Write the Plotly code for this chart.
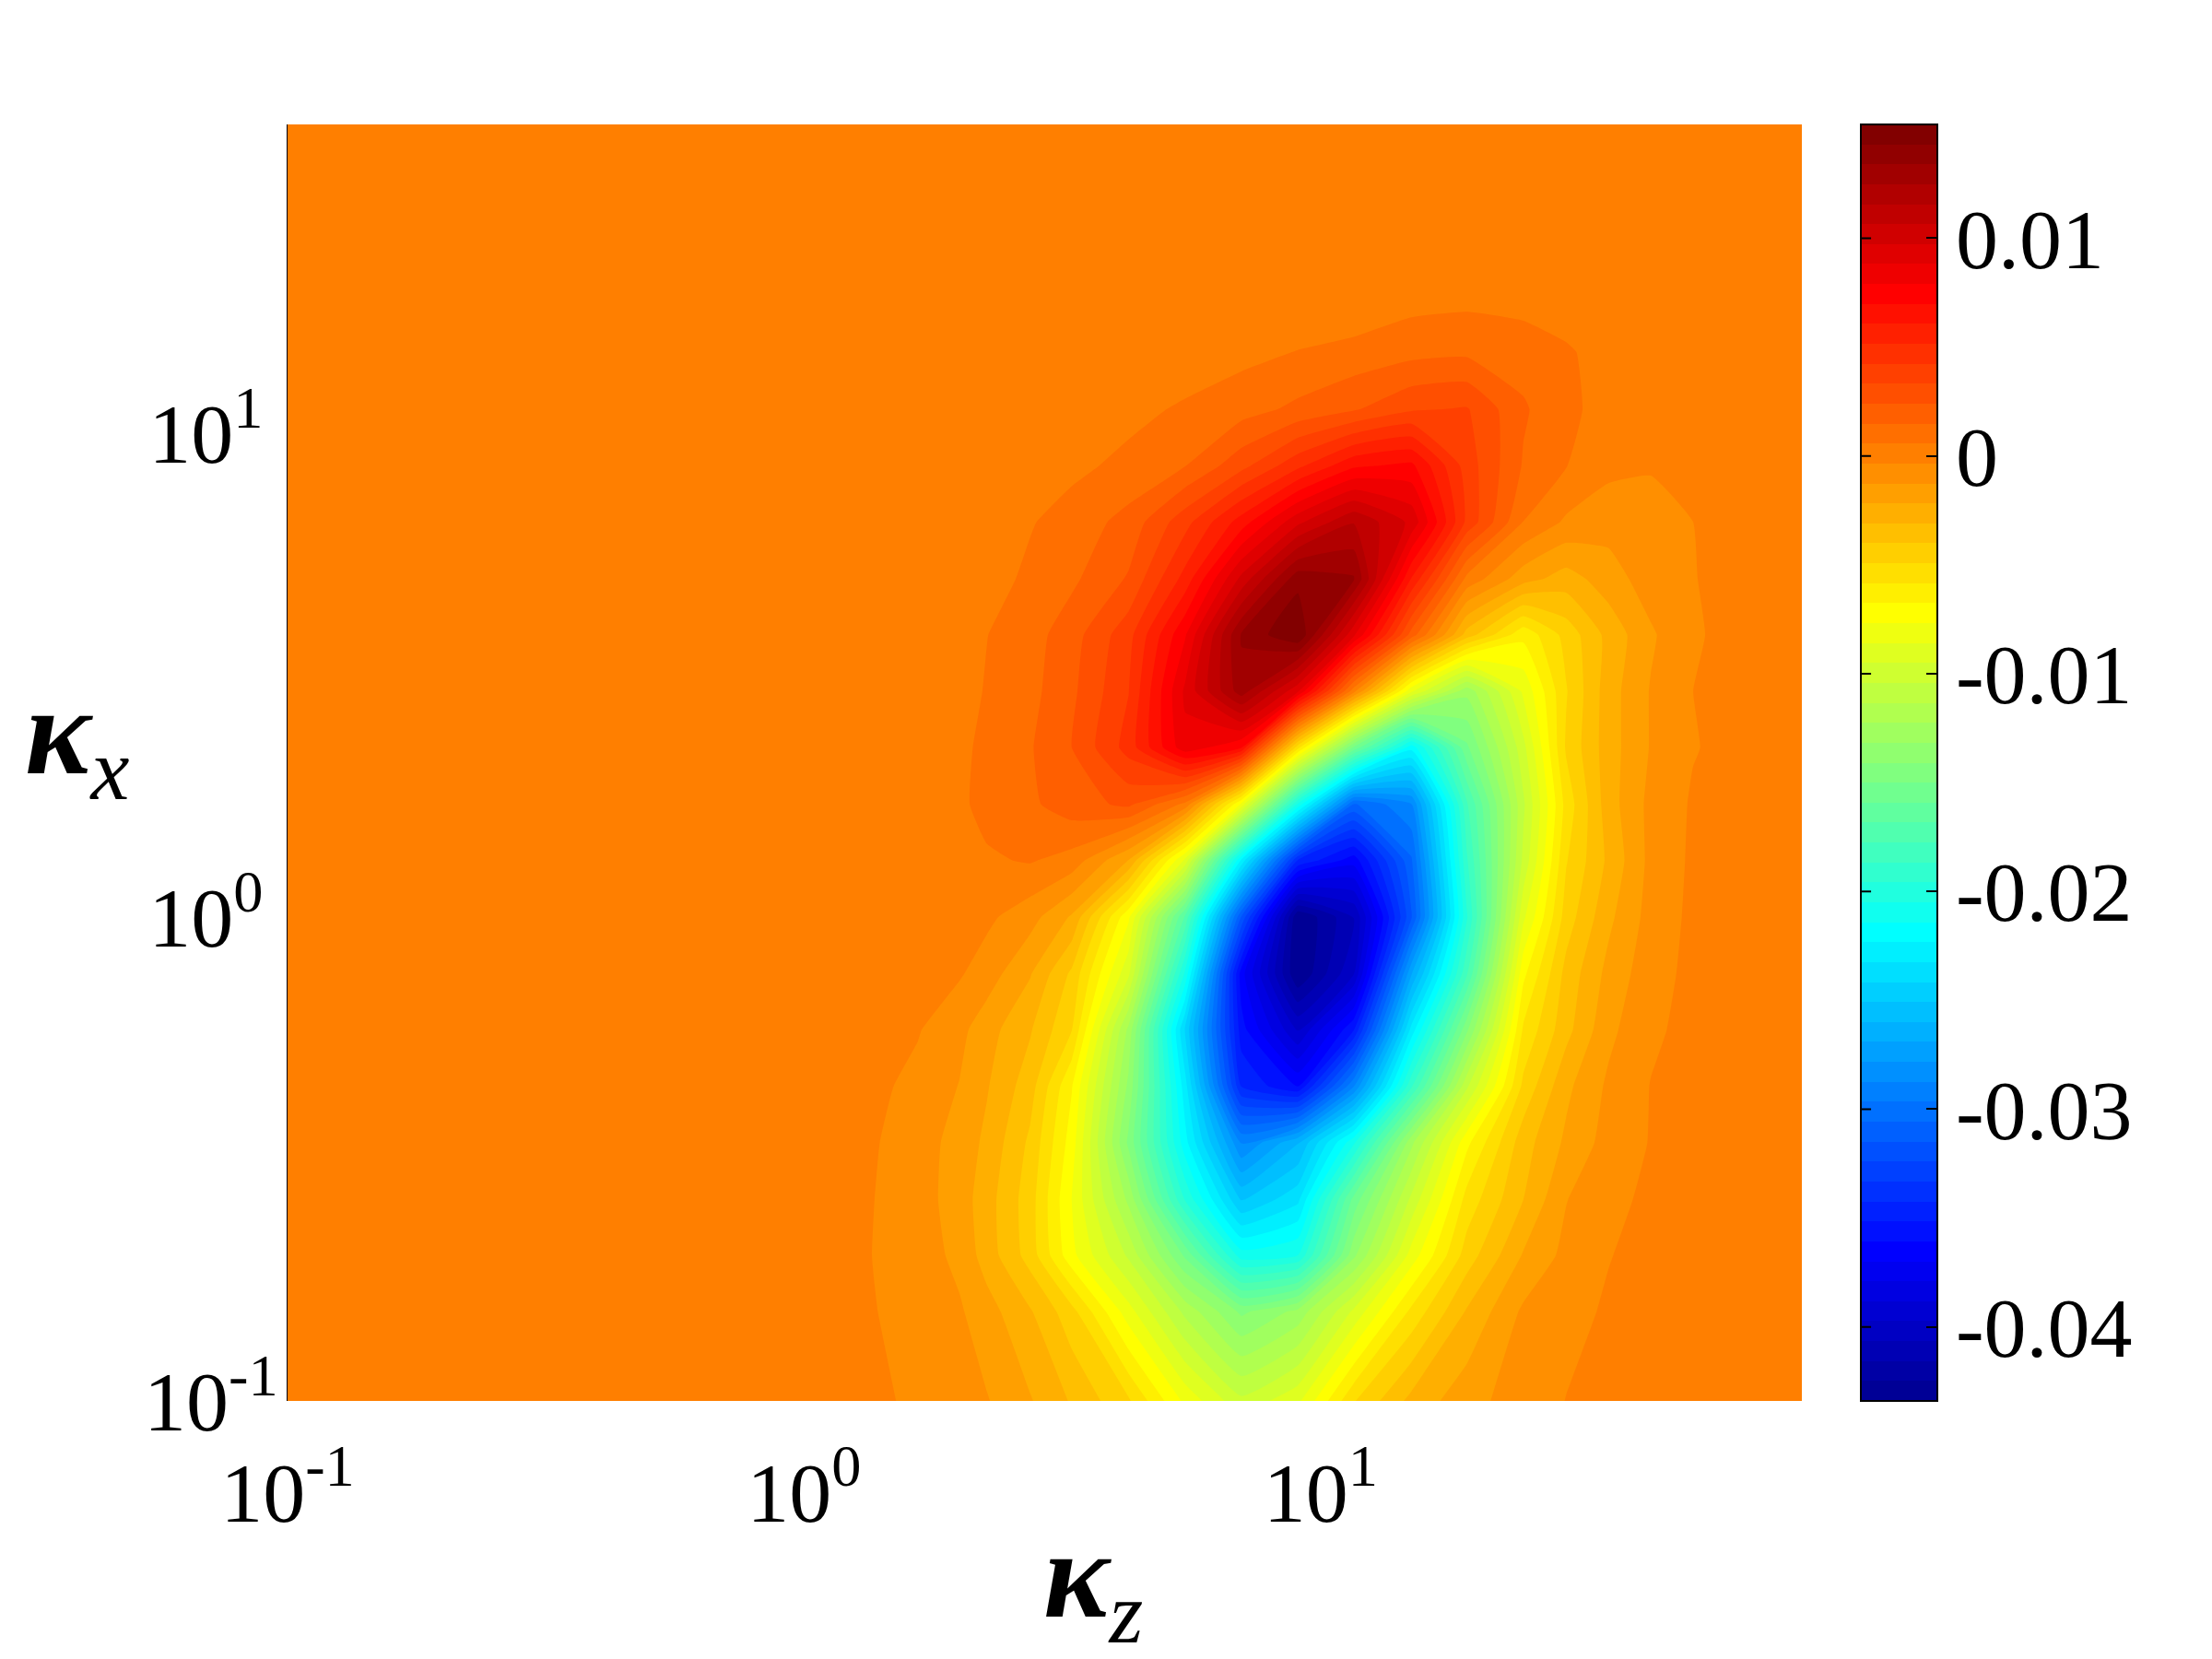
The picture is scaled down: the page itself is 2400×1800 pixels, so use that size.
#!/usr/bin/env python3
"""
Contour map over kz / kx on log axes, jet(64) colours, read off the reference
"""

import plotly.graph_objects as go

# streamwise / spanwise wavenumbers of the grid I read values at
kz = [0.1, 0.644, 1.21, 1.37, 1.66, 2.0, 2.26, 2.74, 3.30, 4.25, 5.47, 7.03,
      9.04, 11.6, 15.0, 19.2, 24.7, 29.9, 36.1, 43.6, 52.6, 63.5, 85.5]
kx = [0.1, 0.153, 0.2, 0.261, 0.342, 0.447, 0.585, 0.764, 1.0, 1.31, 1.71,
      2.24, 2.93, 3.83, 5.0, 6.55, 8.57, 11.2, 14.7, 17.9, 43.5]

# values in units of 1e-3, rows go from kx = 0.1 upwards
z_milli = [
    [0, 0, 0, -.1, -.6, -.95, -1.2, -2.1, -3.2, -4.8, -7.9, -10.2, -8.8, -5, -2.8, -1.6, -.8, -.33, -.15, -.05, 0, 0, 0],
    [0, 0, -.05, -.32, -.7, -1.15, -1.8, -3, -4.6, -8.2, -11.6, -14.3, -12.9, -9.3, -5.6, -3, -1.1, -.6, -.25, -.1, 0, 0, 0],
    [0, 0, -.05, -.38, -.8, -1.5, -2.6, -4.4, -7.4, -10.6, -15.2, -21, -20.5, -13.4, -8.2, -4.5, -2.1, -1, -.38, -.1, 0, 0, 0],
    [0, 0, 0, -.35, -.85, -1.7, -2.7, -4.5, -7.7, -12.5, -19.7, -25.2, -23.5, -15.6, -10.2, -5.5, -3.1, -1.3, -.55, -.2, -.05, 0, 0],
    [0, 0, -.1, -.28, -.85, -1.6, -2.4, -4.2, -7.2, -14.3, -22, -28.8, -26.1, -20.7, -12.5, -7, -3.5, -2, -.9, -.3, -.1, 0, 0],
    [0, 0, 0, -.15, -.6, -1.3, -2.1, -3.6, -6.7, -13.4, -22.9, -34.3, -36.1, -28.8, -18.8, -10.6, -4.7, -2.4, -1.1, -.32, -.1, 0, 0],
    [0, 0, 0, -.02, -.28, -1, -1.8, -3, -4.9, -12.5, -24.3, -35.7, -39.8, -35.2, -22.9, -14.3, -5.7, -3.4, -1.5, -.5, -.1, 0, 0],
    [0, 0, 0, 0, -.05, -.25, -.8, -2.1, -4.2, -9.3, -20.7, -36.6, -43.4, -39.8, -27, -17.9, -7, -3.7, -1.9, -.7, -.12, 0, 0],
    [0, 0, 0, 0, 0, -.05, -.15, -.9, -2.3, -7.5, -17, -31.6, -43.4, -40.7, -31.6, -19.7, -8.8, -4.5, -2.4, -.9, -.15, 0, 0],
    [0, 0, 0, 0, 0, .2, .45, .65, .2, -2.2, -8.8, -22.5, -34.3, -36.6, -30.7, -18.8, -10.2, -5, -2.9, -1, -.2, 0, 0],
    [0, 0, 0, 0, 0, .4, .85, 1.3, 2, 2.6, .3, -7.9, -20.7, -30.7, -28.8, -17.9, -10.6, -5.5, -2.6, -1, -.25, 0, 0],
    [0, 0, 0, 0, 0, .35, .8, 1.4, 2.4, 4.6, 8.5, 7, -5.5, -15.2, -22, -15.2, -9.8, -4.8, -2.6, -1.2, -.4, -.1, 0],
    [0, 0, 0, 0, 0, .15, .65, 1.2, 2.2, 4.2, 9, 13, 9, 0, -8.4, -12.9, -8.4, -5, -2.6, -1.2, -.35, -.1, 0],
    [0, 0, 0, 0, 0, 0, .55, 1.1, 2, 3.9, 7.8, 13.5, 15.2, 9, 2, -3.5, -6.5, -4.6, -2.8, -1.4, -.45, -.1, 0],
    [0, 0, 0, 0, 0, 0, .2, .75, 1.3, 2.5, 5.5, 10, 14, 13.5, 6, .3, -1.8, -2.6, -1.7, -.8, -.38, -.1, 0],
    [0, 0, 0, 0, 0, 0, .15, .5, .95, 1.8, 3.9, 6.5, 9.5, 11.5, 9.5, 4, .55, -.5, -.9, -.8, -.35, -.1, 0],
    [0, 0, 0, 0, 0, 0, 0, .2, .35, .8, 1.45, 3, 4.9, 6.8, 7.2, 3.8, 1.4, .6, -.1, -.25, -.2, -.05, 0],
    [0, 0, 0, 0, 0, 0, 0, 0, 0, .3, .7, 1.1, 1.7, 2.3, 3.2, 3.4, 1.6, .8, .2, 0, 0, 0, 0],
    [0, 0, 0, 0, 0, 0, 0, 0, 0, 0, 0, .3, .6, .9, 1.2, 1.3, 1.1, .75, 0, 0, 0, 0, 0],
    [0, 0, 0, 0, 0, 0, 0, 0, 0, 0, 0, 0, 0, 0, .45, .55, .4, 0, 0, 0, 0, 0, 0],
    [0, 0, 0, 0, 0, 0, 0, 0, 0, 0, 0, 0, 0, 0, 0, 0, 0, 0, 0, 0, 0, 0, 0],
]

axis_ticks = [0.1, 1, 10]
x_ticktext = ["10<sup>-1</sup>", "10<sup>0</sup>", "10<sup>1</sup>"]
# the trailing space keeps the "10" of all three in one column
y_ticktext = ["10<sup>-1</sup>", "10<sup>0\u00a0</sup>", "10<sup>1\u00a0</sup>"]
cb_ticks = [0.01, 0, -0.01, -0.02, -0.03, -0.04]
cb_ticktext = ["0.01", "0", "-0.01", "-0.02", "-0.03", "-0.04"]

# stops placed so that each of the 64 bands gets its jet(64) colour
jet = [
    [0, "#00008f"], [0.117, "#0000ff"], [0.367, "#00ffff"],
    [0.617, "#ffff00"], [0.867, "#ff0000"], [1, "#7a0000"],
]

zmin = -0.0434
band = 0.000916
zmax = zmin + 64 * band
FONT = "Liberation Serif"

z = [[v * 1e-3 for v in row] for row in z_milli]

fig = go.Figure(go.Contour(
    x=kz,
    y=kx,
    z=z,
    colorscale=jet,
    zmin=zmin,
    zmax=zmax,
    autocontour=False,
    contours=dict(start=zmin, end=zmax, size=band, coloring="fill", showlines=False),
    line=dict(width=0, smoothing=0.4),
    colorbar=dict(
        x=1.039, xanchor="left", xpad=0,
        y=0.5, yanchor="middle", ypad=0, len=1,
        thickness=83, thicknessmode="pixels",
        outlinecolor="black", outlinewidth=2,
        tickmode="array", tickvals=cb_ticks, ticktext=cb_ticktext,
        ticks="inside", ticklen=13, tickwidth=2, tickcolor="black",
        tickfont=dict(family=FONT, size=92, color="black"),
    ),
))

# MATLAB draws the colorbar ticks on both sides, shapes end up under the bar
for v in cb_ticks:
    yy = (v - zmin) / (zmax - zmin)
    fig.add_annotation(text=" ", xref="paper", yref="paper", x=1.039, y=yy,
                       showarrow=True, arrowhead=0, arrowwidth=2, arrowcolor="black",
                       standoff=0, startstandoff=0, ax=14, ay=0, axref="pixel", ayref="pixel")

fig.add_annotation(text="<b><i>κ</i></b><i><sub>x</sub></i>", xref="paper", yref="paper",
                   x=-0.1745, y=0.518, showarrow=False,
                   font=dict(family=FONT, size=135, color="black"))
fig.add_annotation(text="<b><i>κ</i></b><i><sub>z</sub></i>", xref="paper", yref="paper",
                   x=0.532, y=-0.205, showarrow=False,
                   font=dict(family=FONT, size=135, color="black"))

fig.update_xaxes(type="log", range=[-1, 1.932], tickvals=axis_ticks, ticktext=x_ticktext,
                 ticks="", showgrid=False, zeroline=False, ticklabelstandoff=38,
                 tickfont=dict(family=FONT, size=92, color="black"))
fig.update_yaxes(type="log", range=[-1, 1.638], tickvals=axis_ticks, ticktext=y_ticktext,
                 ticks="", showgrid=False, zeroline=False, ticklabelstandoff=-9,
                 showline=True, linecolor="black", linewidth=1,
                 tickfont=dict(family=FONT, size=92, color="black"))

# the page body adds 8 px on the left and top
fig.update_layout(
    width=2400, height=1800,
    margin=dict(l=304, r=453, t=127, b=288, autoexpand=False),
    paper_bgcolor="white", plot_bgcolor="white",
    showlegend=False,
)

fig.write_html("out.html")
